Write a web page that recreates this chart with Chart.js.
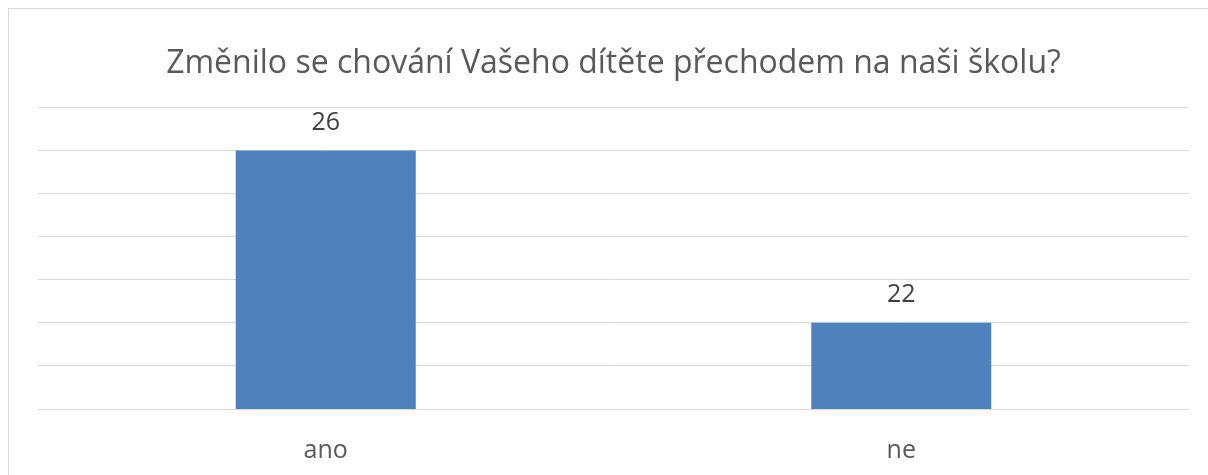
<!DOCTYPE html>
<html>
<head>
<meta charset="utf-8">
<script src="https://cdn.jsdelivr.net/npm/chart.js@4/dist/chart.umd.min.js"></script>
<style>
html,body{margin:0;padding:0;background:#fff;overflow:hidden;}
#wrap{position:relative;width:1208px;height:475px;}
</style>
</head>
<body>
<div id="wrap"><canvas id="c" width="1208" height="475"></canvas></div>
<script>
const titleText = 'Změnilo se chování Vašeho dítěte přechodem na naši školu?';
const categories = ['ano', 'ne'];
const values = [26, 22];
const yMin = 20;
const yMax = 27;
const yStep = 1;

const frame = {
  id: 'frame',
  beforeDraw(chart) {
    const ctx = chart.ctx;
    ctx.save();
    ctx.fillStyle = '#ffffff';
    ctx.fillRect(0, 0, chart.width, chart.height);
    ctx.strokeStyle = '#d9d9d9';
    ctx.lineWidth = 1;
    ctx.strokeRect(8.5, 8.5, 1400, 600);
    ctx.restore();
  }
};

const valueLabels = {
  id: 'valueLabels',
  afterDatasetsDraw(chart) {
    const ctx = chart.ctx;
    const meta = chart.getDatasetMeta(0);
    ctx.save();
    ctx.font = '25px "Open Sans"';
    ctx.fillStyle = '#404040';
    ctx.textAlign = 'center';
    ctx.textBaseline = 'middle';
    meta.data.forEach((bar, i) => {
      ctx.fillText(String(values[i]), bar.x, bar.y - 28);
    });
    ctx.restore();
  }
};

new Chart(document.getElementById('c'), {
  type: 'bar',
  data: {
    labels: categories,
    datasets: [{
      data: values,
      backgroundColor: '#4f81bd',
      borderWidth: 0,
      categoryPercentage: 1,
      barPercentage: 0.3128
    }]
  },
  options: {
    responsive: false,
    animation: false,
    devicePixelRatio: 1,
    layout: { padding: { left: 38, right: 19, top: 0, bottom: -18 } },
    plugins: {
      legend: { display: false },
      tooltip: { enabled: false },
      title: {
        display: true,
        text: titleText,
        color: '#595959',
        font: { family: 'Open Sans', size: 32, weight: 'normal' },
        padding: { top: 45, bottom: 24 }
      }
    },
    scales: {
      x: {
        grid: { display: false, drawTicks: false },
        border: { display: false },
        ticks: { color: '#595959', font: { family: 'Open Sans', size: 25 }, padding: 27 }
      },
      y: {
        min: yMin,
        max: yMax,
        ticks: { display: false, stepSize: yStep },
        grid: { color: '#d9d9d9', lineWidth: 1, drawTicks: false },
        border: { display: false }
      }
    }
  },
  plugins: [frame, valueLabels]
});
</script>
</body>
</html>
